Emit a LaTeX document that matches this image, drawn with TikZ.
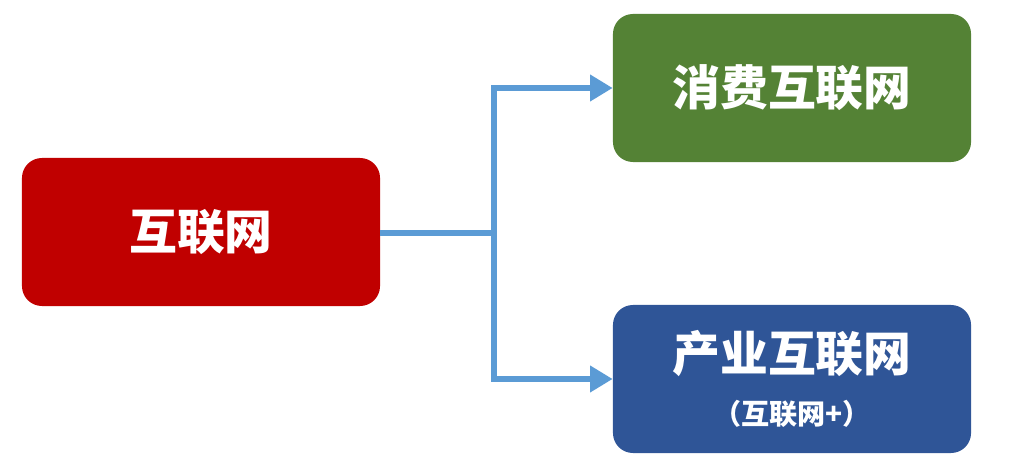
\documentclass[tikz,border=0pt]{standalone}
\usepackage{fontspec}
\newfontfamily\cjk{Noto Sans CJK SC}
\usepackage{tikz}
\usetikzlibrary{arrows.meta}
\definecolor{boxred}{HTML}{C00000}
\definecolor{boxgreen}{HTML}{548235}
\definecolor{boxblue}{HTML}{2F5597}
\definecolor{linkblue}{HTML}{5B9BD5}

\begin{document}
\begin{tikzpicture}[x=0.025cm, y=-0.025cm,
    box/.style={shape=rectangle, rounded corners=0.5cm, minimum width=8.95cm, minimum height=3.7cm,
                text=white, font=\cjk\bfseries\fontsize{34}{40}\selectfont, align=center},
    link/.style={draw=linkblue, line width=4.5pt}]
                        \useasboundingbox (0,0) rectangle (1009,472);
                        \node[fill=boxred] (net) at (201,232) [box] {互联网};
                        \node[fill=boxgreen] (consumer) at (792,88) [box] {消费互联网};
                        \node[fill=boxblue] (industry) at (792,379) [box] {产业互联网\\[-2pt]{\fontsize{20}{24}\selectfont（互联网+）}};
                        \coordinate (split) at (494,233);

                        \path	[link]	(net.east |- split)	-- 	(split);
                        \path	[link, -{Triangle[length=16pt,width=18pt]}]	(split)	|- 	(consumer.west);
                        \path	[link, -{Triangle[length=16pt,width=18pt]}]	(split)	|- 	(industry.west);
                    \end{tikzpicture}
\end{document}
